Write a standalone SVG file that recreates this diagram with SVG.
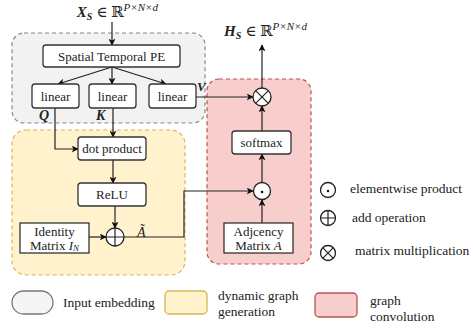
<svg xmlns="http://www.w3.org/2000/svg" width="471" height="331" viewBox="0 0 471 331" font-family="'Liberation Serif', 'DejaVu Serif', serif">
<style>
text{font-family:'Liberation Serif','DejaVu Serif',serif;fill:#222}
.lbl{font-size:13px;text-anchor:middle;dominant-baseline:central}
.math{font-style:italic;font-weight:bold}
.node{fill:#fff;stroke:#333;stroke-width:1.3}
.op{fill:#fff;stroke:#222;stroke-width:1.3}
.cn{fill:none;stroke:#222;stroke-width:1.2}
.leg{font-size:13.5px;dominant-baseline:central}
.sup{font-size:11px;font-style:italic}
</style>
<defs>
<marker id="ah" viewBox="0 0 10 10" refX="9" refY="5" markerWidth="7" markerHeight="7" orient="auto" markerUnits="userSpaceOnUse">
<path d="M0,0 L10,5 L0,10 L2.5,5 z" fill="#111"/>
</marker>
</defs>

<g id="groups">
<rect x="12" y="33" width="193" height="90" rx="12" fill="#f2f2f2" stroke="#888" stroke-width="1.2" stroke-dasharray="4,3"/>
<rect x="12" y="130" width="173" height="145" rx="14" fill="#fff2cc" stroke="#d6b656" stroke-width="1.2" stroke-dasharray="4,3"/>
<rect x="207" y="79" width="104" height="185" rx="12" fill="#f8cecc" stroke="#b85450" stroke-width="1.2" stroke-dasharray="4,3"/>
</g>

<g id="titles">
<text x="158" y="17" font-size="15" text-anchor="end"><tspan class="math">X</tspan><tspan class="math" font-size="10" dy="3">S</tspan><tspan dy="-3" dx="4">∈ ℝ</tspan><tspan class="sup" dy="-6">P×N×d</tspan></text>
<text x="307" y="36" font-size="15" text-anchor="end"><tspan class="math">H</tspan><tspan class="math" font-size="10" dy="3">S</tspan><tspan dy="-3" dx="4">∈ ℝ</tspan><tspan class="sup" dy="-6">P×N×d</tspan></text>
</g>

<g id="connectors">
<line class="cn" x1="112" y1="22" x2="112" y2="45" marker-end="url(#ah)"/>
<line class="cn" x1="112" y1="67" x2="58" y2="84" marker-end="url(#ah)"/>
<line class="cn" x1="112" y1="67" x2="112" y2="84" marker-end="url(#ah)"/>
<line class="cn" x1="112" y1="67" x2="166" y2="84" marker-end="url(#ah)"/>
<polyline class="cn" points="55,108 55,149 78,149" marker-end="url(#ah)"/>
<line class="cn" x1="113" y1="108" x2="113" y2="137" marker-end="url(#ah)"/>
<line class="cn" x1="113" y1="160" x2="113" y2="183" marker-end="url(#ah)"/>
<line class="cn" x1="115" y1="206" x2="115" y2="228" marker-end="url(#ah)"/>
<line class="cn" x1="89" y1="237" x2="106" y2="237" marker-end="url(#ah)"/>
<polyline class="cn" points="124,237 184,237 184,191 253,191" marker-end="url(#ah)"/>
<line class="cn" x1="196" y1="97" x2="253" y2="97" marker-end="url(#ah)"/>
<line class="cn" x1="262" y1="88" x2="262" y2="45" marker-end="url(#ah)"/>
<line class="cn" x1="262" y1="131" x2="262" y2="106" marker-end="url(#ah)"/>
<line class="cn" x1="262" y1="182" x2="262" y2="154" marker-end="url(#ah)"/>
<line class="cn" x1="262" y1="223" x2="262" y2="200" marker-end="url(#ah)"/>
<text x="39" y="120" font-size="14" class="math">Q</text>
<text x="96" y="120" font-size="14" class="math">K</text>
<text x="197" y="91" font-size="13" class="math">V</text>
<text x="137" y="237" font-size="14" font-style="italic">Ã</text>
</g>

<g id="pe"><rect class="node" x="43" y="45" width="137" height="22" rx="3"/><text class="lbl" x="111.5" y="56" font-size="13.5">Spatial Temporal  PE</text></g>
<g id="linear1"><rect class="node" x="32" y="84" width="47" height="24" rx="3"/><text class="lbl" x="55.5" y="96">linear</text></g>
<g id="linear2"><rect class="node" x="89" y="84" width="47" height="24" rx="3"/><text class="lbl" x="112.5" y="96">linear</text></g>
<g id="linear3"><rect class="node" x="149" y="84" width="47" height="24" rx="3"/><text class="lbl" x="172.5" y="96">linear</text></g>
<g id="dot"><rect class="node" x="78" y="137" width="68" height="23" rx="3"/><text class="lbl" x="112" y="148.5">dot product</text></g>
<g id="relu"><rect class="node" x="78" y="183" width="68" height="23" rx="3"/><text class="lbl" x="112" y="194.5">ReLU</text></g>
<g id="identity"><rect class="node" x="20" y="223" width="69" height="30"/><text class="lbl" x="54.5" y="231">Identity</text><text class="lbl" x="54.5" y="245">Matrix <tspan font-style="italic">I<tspan font-size="9" dy="3">N</tspan></tspan></text></g>
<g id="add"><circle class="op" cx="115" cy="237" r="9"/><path d="M106,237 H124 M115,228 V246" stroke="#222" stroke-width="1.2"/></g>
<g id="softmax"><rect class="node" x="232" y="131" width="59" height="23" rx="3"/><text class="lbl" x="261.5" y="142.5">softmax</text></g>
<g id="ewp"><circle class="op" cx="262" cy="191" r="8.5"/><circle cx="262" cy="192" r="1.3" fill="#111"/></g>
<g id="adj"><rect class="node" x="224" y="223" width="69" height="30"/><text class="lbl" x="258.5" y="231">Adjcency</text><text class="lbl" x="258.5" y="245">Matrix <tspan font-style="italic">A</tspan></text></g>
<g id="mul"><circle class="op" cx="262" cy="97" r="9"/><path d="M255.6,90.6 L268.4,103.4 M268.4,90.6 L255.6,103.4" stroke="#222" stroke-width="1.2"/></g>

<g id="legend-ops">
<circle class="op" cx="328" cy="190" r="7.5"/><circle cx="328" cy="191" r="1.2" fill="#111"/>
<text class="leg" x="350" y="188">elementwise product</text>
<circle class="op" cx="328" cy="218" r="7.5"/><path d="M320.5,218 H335.5 M328,210.5 V225.5" stroke="#222" stroke-width="1.2"/>
<text class="leg" x="352" y="217">add operation</text>
<circle class="op" cx="328" cy="253" r="7.5"/><path d="M322.7,247.7 L333.3,258.3 M333.3,247.7 L322.7,258.3" stroke="#222" stroke-width="1.2"/>
<text class="leg" x="355" y="250">matrix multiplication</text>
</g>

<g id="legend-groups">
<rect x="12" y="291" width="41" height="23" rx="11.5" fill="#f5f5f5" stroke="#777" stroke-width="1.3"/>
<text class="leg" x="63" y="302">Input embedding</text>
<rect x="165" y="291" width="42" height="23" rx="4" fill="#fff2cc" stroke="#d6b656" stroke-width="1.3"/>
<text class="leg" x="218" y="295">dynamic graph</text>
<text class="leg" x="218" y="311">generation</text>
<rect x="315" y="293" width="42" height="24" rx="4" fill="#f8cecc" stroke="#b85450" stroke-width="1.3"/>
<text class="leg" x="370" y="300">graph</text>
<text class="leg" x="370" y="316">convolution</text>
</g>
</svg>
